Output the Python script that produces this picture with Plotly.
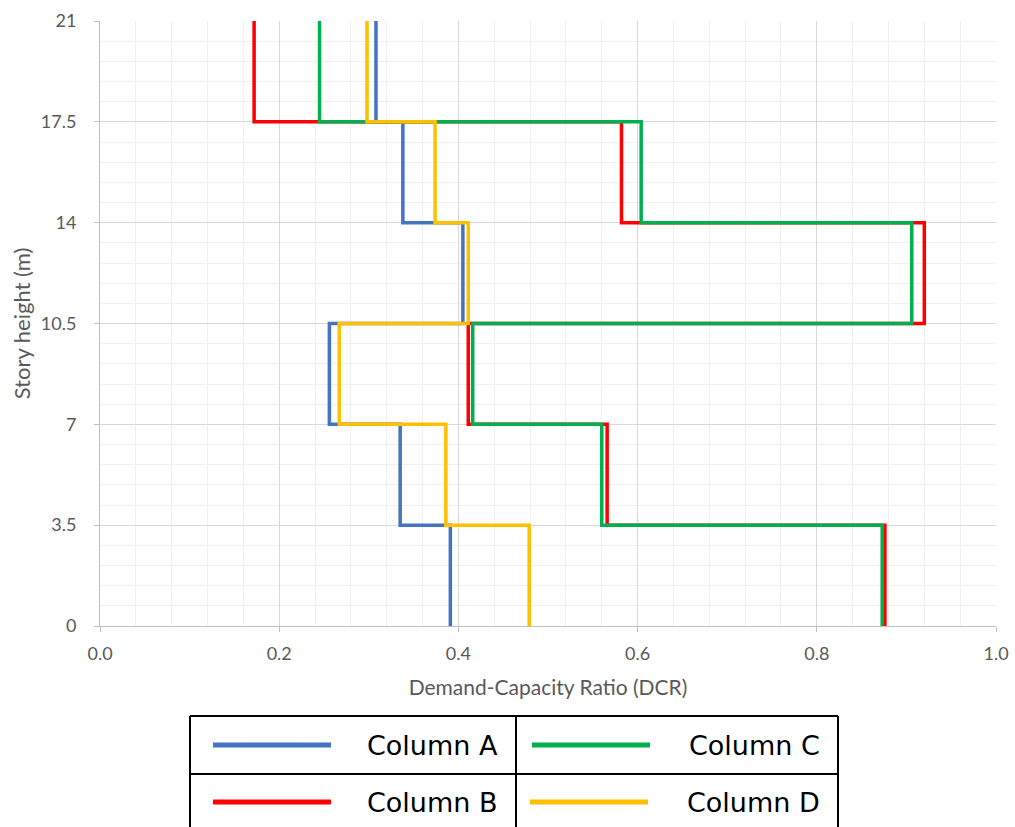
import plotly.graph_objects as go

# story boundaries (m) and DCR per storey, bottom storey first
heights = [0, 3.5, 7, 10.5, 14, 17.5, 21]
col_a = [0.391, 0.335, 0.256, 0.405, 0.338, 0.308]
col_b = [0.876, 0.566, 0.411, 0.920, 0.582, 0.172]
col_c = [0.873, 0.560, 0.416, 0.906, 0.604, 0.245]
col_d = [0.479, 0.386, 0.267, 0.411, 0.374, 0.298]
names = ["Column A", "Column B", "Column C", "Column D"]
colors = ["#4472C4", "#FF0000", "#00B050", "#FFC000"]

W, H = 1015, 827
L, R, T, B = 100, 19, 21, 201


def px(x):
    return (x - L) / (W - L - R)


def py(y):
    return (H - B - y) / (H - T - B)


fig = go.Figure()
for name, vals, c in zip(names, [col_a, col_b, col_c, col_d], colors):
    # vh step: each storey value held from its floor up to the next floor
    fig.add_scatter(x=vals + vals[-1:], y=heights, mode="lines", name=name,
                    line=dict(color=c, width=3.5, shape="vh"), showlegend=False)

tick_font = dict(family="Lato, Liberation Sans, sans-serif", size=18, color="#595959")
title_font = dict(family="Lato, sans-serif", size=21, color="#595959")
fig.update_xaxes(
    range=[0, 1.0], dtick=0.2, tickformat=".1f", showgrid=True, gridcolor="#d9d9d9",
    minor=dict(dtick=0.04, showgrid=True, gridcolor="#f0f0f0"),
    showline=True, linecolor="#bfbfbf", ticks="outside", ticklen=5, tickcolor="#bfbfbf",
    ticklabelstandoff=6, zeroline=False, tickfont=tick_font,
    title=dict(text="Demand-Capacity Ratio (DCR)", font=title_font, standoff=17),
)
fig.update_yaxes(
    range=[0, 21], tickvals=heights, ticktext=["0", "3.5", "7", "10.5", "14", "17.5", "21"],
    showgrid=True, gridcolor="#d9d9d9",
    minor=dict(dtick=0.7, showgrid=True, gridcolor="#f0f0f0"),
    showline=True, linecolor="#bfbfbf", ticks="outside", ticklen=5, tickcolor="#bfbfbf",
    ticklabelstandoff=14, zeroline=False, tickfont=tick_font,
    title=dict(text="Story height (m)", font=dict(title_font, size=22), standoff=4),
)

# table-style legend below the plot
shapes = []
border = dict(color="black", width=2)
for x0, x1, y0, y1 in [(190, 838, 716, 716), (190, 838, 774, 774), (190, 838, 832, 832),
                       (190, 190, 716, 832), (516, 516, 716, 832), (838, 838, 716, 832)]:
    shapes.append(dict(type="line", xref="paper", yref="paper", x0=px(x0), x1=px(x1),
                       y0=py(y0), y1=py(y1), line=border))
annotations = []
cells = [(213, 331, 500, 745), (213, 331, 500, 802), (532, 650, 822, 745), (530, 648, 822, 802)]
for (lx0, lx1, tx, y), name, c in zip(cells, names, colors):
    shapes.append(dict(type="line", xref="paper", yref="paper", x0=px(lx0), x1=px(lx1),
                       y0=py(y), y1=py(y), line=dict(color=c, width=5)))
    annotations.append(dict(text=name, xref="paper", yref="paper", x=px(tx), y=py(y),
                            xanchor="right", yanchor="middle", showarrow=False,
                            font=dict(family="DejaVu Sans, sans-serif", size=27, color="black")))

fig.update_layout(
    width=W, height=H, margin=dict(l=L, r=R, t=T, b=B, autoexpand=False),
    paper_bgcolor="white", plot_bgcolor="white",
    shapes=shapes, annotations=annotations,
)

fig.write_html("out.html", config={"displayModeBar": False},
               post_script="document.body.style.margin='0';")
